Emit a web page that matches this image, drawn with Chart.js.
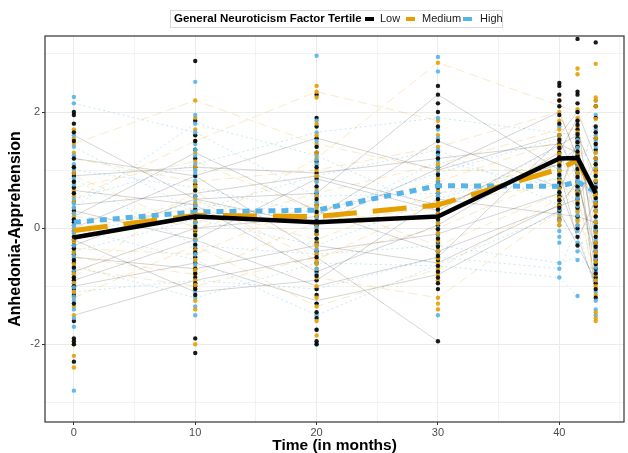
<!DOCTYPE html>
<html>
<head>
<meta charset="utf-8">
<script src="https://cdn.jsdelivr.net/npm/chart.js@4.4.1/dist/chart.umd.min.js"></script>
<style>
  html, body { margin: 0; padding: 0; background: #fff; }
  #wrap { position: relative; width: 628px; height: 453px; font-family: "Liberation Sans", Arial, Helvetica, sans-serif; }
  #legend-box { position: absolute; left: 170px; top: 10px; width: 333px; height: 18px; border: 1px solid #d9d9d9; box-sizing: border-box; }
  .lg { position: absolute; top: 12px; font-size: 11px; line-height: 13px; color: #1a1a1a; white-space: nowrap; }
  .lg-title { font-weight: bold; color: #000; font-size: 11.5px; top: 11.5px; }
  .key { position: absolute; top: 17px; width: 9px; height: 4px; }
</style>
</head>
<body>
<div id="wrap">
  <div id="legend-box"></div>
  <span class="lg lg-title" style="left:174px">General Neuroticism Factor Tertile</span>
  <span class="key" style="left:365px;background:#000000"></span>
  <span class="lg" style="left:380px">Low</span>
  <span class="key" style="left:406px;background:#E69F00"></span>
  <span class="lg" style="left:422px">Medium</span>
  <span class="key" style="left:463px;background:#56B4E9"></span>
  <span class="lg" style="left:480px">High</span>
  <canvas id="chart" width="628" height="453"></canvas>
</div>
<script>
(function () {
  "use strict";

  var times = [0, 10, 20, 30, 40, 41.5, 43];
  var groupNames = ["Low", "Medium", "High"];

  // mean trajectories per tertile
  var meanLow = [-0.16, 0.2, 0.1, 0.2, 1.2, 1.21, 0.6];
  var meanMedium = [-0.04, 0.22, 0.2, 0.4, 1.02, 1.17, 0.55];
  var meanHigh = [0.1, 0.28, 0.31, 0.73, 0.72, 0.8, 0.62];

  // observed scores, one list per time point
  var lowPoints = [
    [2.0, 1.95, 1.8, 1.65, 1.5, 1.2, 0.95, 0.9, 0.7, 0.45, 0.3, 0.1, -0.05, -0.2, -0.3, -0.45, -0.6, -0.75, -0.9, -1.05, -1.15, -1.3, -1.6, -1.9, -1.95, -2.0, -2.3,
     0.6, 0.15, -0.15, -0.35, -0.55, -0.85, -1.0, 0.8, 1.05, -0.68],
    [2.88, 1.85, 1.6, 1.35, 1.2, 1.05, 0.9, 0.75, 0.55, 0.4, 0.25, 0.1, -0.05, -0.2, -0.35, -0.5, -0.6, -0.7, -0.85, -0.95, -1.05, -1.15, -1.9, -2.15,
     1.5, 0.65, 0.32, 0.18, -0.12, -0.28, -0.42, -0.78, -1.0, 0.02],
    [2.3, 1.9, 1.75, 1.55, 1.3, 1.15, 0.95, 0.85, 0.6, 0.4, 0.2, 0.05, -0.1, -0.25, -0.4, -0.6, -0.75, -0.9, -1.05, -1.15, -1.3, -1.45, -1.55, -1.75, -1.95, -2.0,
     1.4, 1.05, 0.72, 0.5, 0.28, 0.12, -0.05, -0.18, -0.5, -0.82],
    [2.45, 2.3, 2.15, 2.0, 1.75, 1.5, 1.3, 1.05, 0.8, 0.6, 0.4, 0.25, 0.05, -0.1, -0.25, -0.4, -0.55, -0.65, -0.75, -0.85, -0.95, -1.05, -1.95,
     1.2, 0.92, 0.7, 0.5, 0.32, 0.15, -0.02, -0.18, -0.32, -0.48],
    [2.5, 2.45, 2.3, 2.1, 1.95, 1.8, 1.6, 1.45, 1.3, 1.15, 1.0, 0.85, 0.7, 0.55, 0.4, 0.3, 0.15,
     1.52, 1.38, 1.22, 1.08, 0.92, 0.78, 0.62, 0.48, 0.35, 2.2],
    [3.26, 2.35, 2.3, 2.15, 2.0, 1.85, 1.7, 1.55, 1.4, 1.25, 1.1, 0.95, 0.8, 0.65, 0.5, 0.35, 0.2, 0.0, -0.15, -0.3,
     1.78, 1.62, 1.48, 1.32, 1.18, 1.02, 0.88, 0.72, 0.58, 0.42],
    [3.2, 2.1, 1.9, 1.75, 1.55, 1.35, 1.2, 1.0, 0.8, 0.6, 0.45, 0.3, 0.1, -0.05, -0.25, -0.4, -0.55, -0.7, -0.85, -0.95, -1.05, -1.2,
     1.65, 1.45, 1.1, 0.9, 0.7, 0.52, 0.38, 0.2, 0.02, -0.15, -0.32, -0.48, -0.62, -0.78]
  ];
  var mediumPoints = [
    [1.7, 1.55, 1.45, 1.3, 1.05, 0.8, 0.65, 0.55, 0.35, 0.2, 0.05, -0.1, -0.25, -0.35, -0.5, -0.7, -0.85, -1.0, -1.2, -1.35, -1.5, -2.0, -2.2, -2.4,
     0.95, 0.45, 0.25, -0.05, -0.2, -0.42, -0.62, -0.78, -0.95, -1.1],
    [2.2, 1.9, 1.7, 1.5, 1.3, 1.15, 1.0, 0.8, 0.65, 0.5, 0.35, 0.2, 0.05, -0.1, -0.3, -0.45, -0.65, -0.8, -0.9, -1.05, -1.25, -1.4, -2.0,
     1.05, 0.72, 0.42, 0.12, -0.02, -0.2, -0.38, -0.55, -0.72, -0.98],
    [2.45, 2.35, 2.25, 1.8, 1.6, 1.45, 1.2, 1.0, 0.8, 0.65, 0.45, 0.3, 0.15, 0.0, -0.2, -0.35, -0.55, -0.7, -0.85, -1.0, -1.2, -1.35, -1.6, -1.85,
     1.3, 0.9, 0.55, 0.38, 0.22, 0.08, -0.1, -0.28, -0.45, -0.62],
    [2.85, 1.85, 1.6, 1.4, 1.2, 1.0, 0.75, 0.55, 0.35, 0.15, 0.0, -0.15, -0.3, -0.45, -0.6, -0.7, -0.8, -0.9, -1.2, -1.3, -1.4,
     1.1, 0.85, 0.65, 0.45, 0.25, 0.08, -0.08, -0.22, -0.38, -0.52],
    [2.2, 2.0, 1.85, 1.7, 1.5, 1.35, 1.2, 1.05, 0.9, 0.75, 0.6, 0.45, 0.3, 0.2, 0.05,
     1.6, 1.42, 1.28, 1.12, 0.98, 0.82, 0.68, 0.52, 0.38, 0.12],
    [2.75, 2.65, 2.05, 1.9, 1.75, 1.55, 1.4, 1.2, 1.05, 0.85, 0.7, 0.55, 0.35, 0.2, 0.05,
     1.65, 1.48, 1.3, 1.12, 0.95, 0.78, 0.62, 0.45, 0.28, 0.12],
    [2.83, 2.25, 2.2, 2.1, 1.65, 1.45, 1.3, 1.1, 0.95, 0.7, 0.5, 0.35, 0.2, 0.0, -0.15, -0.35, -0.5, -0.65, -0.8, -1.0, -1.15, -1.45, -1.55, -1.6,
     1.88, 1.55, 1.2, 1.02, 0.82, 0.6, 0.42, 0.28, 0.1, -0.08, -0.25, -0.42, -0.58, -0.9]
  ];
  var highPoints = [
    [2.26, 2.15, 1.6, 1.4, 1.25, 1.1, 1.0, 0.85, 0.6, 0.5, 0.35, 0.15, 0.0, -0.15, -0.4, -0.55, -0.65, -0.8, -0.95, -1.1, -1.25, -1.4, -1.55, -1.7, -2.8,
     0.75, 0.42, 0.25, 0.05, -0.08, -0.3, -0.48, -0.72, -1.02, -1.18],
    [2.52, 1.95, 1.8, 1.65, 1.45, 1.25, 1.1, 0.95, 0.7, 0.45, 0.3, 0.15, 0.0, -0.15, -0.3, -0.55, -0.75, -0.9, -1.1, -1.2, -1.35, -1.5,
     1.35, 1.0, 0.82, 0.55, 0.38, 0.22, 0.08, -0.22, -0.45, -0.62],
    [2.97, 1.85, 1.65, 1.4, 1.25, 1.1, 0.9, 0.7, 0.55, 0.35, 0.25, 0.1, -0.05, -0.3, -0.45, -0.6, -0.8, -1.05, -1.3, -1.5, -1.75, -2.0,
     1.5, 1.18, 0.8, 0.62, 0.45, 0.18, 0.02, -0.18, -0.38, -0.7],
    [2.95, 2.7, 1.9, 1.7, 1.55, 1.35, 1.15, 0.95, 0.8, 0.6, 0.5, 0.3, 0.1, -0.1, -0.3, -0.5, -0.65, -1.5,
     1.25, 1.05, 0.88, 0.7, 0.55, 0.4, 0.2, 0.0, -0.2, -0.4],
    [1.75, 1.55, 1.4, 1.25, 1.1, 0.95, 0.85, 0.7, 0.55, 0.4, 0.25, 0.05, -0.25, -0.6, -0.7, -0.85,
     1.18, 1.02, 0.9, 0.78, 0.62, 0.48, 0.32, 0.15, -0.05, -0.15],
    [2.0, 1.85, 1.6, 1.45, 1.3, 1.0, 0.9, 0.75, 0.6, 0.45, 0.3, 0.15, -0.05, -0.25, -0.4, -0.55, -1.17,
     1.52, 1.38, 1.2, 1.08, 0.82, 0.68, 0.52, 0.38, 0.22, 0.05],
    [2.2, 1.95, 1.7, 1.5, 1.3, 1.15, 0.9, 0.75, 0.55, 0.4, 0.2, 0.05, -0.1, -0.3, -0.45, -0.6, -0.75, -0.9, -1.1, -1.4, -1.5,
     1.6, 1.4, 1.05, 0.82, 0.65, 0.48, 0.3, 0.12, -0.02, -0.2, -0.38, -0.52, -0.68, -1.25]
  ];

  // individual subjects (values at each time, null = missing)
  var lowSubjects = [
    [0.9, 1.05, 0.95, 1.2, 1.45, 1.3, 0.6],
    [-0.5, -0.7, -0.3, -0.6, 0.4, 0.8, -0.4],
    [0.3, -0.2, 0.85, 0.3, null, 1.6, 0.9],
    [-1.0, -0.6, -1.25, -0.8, 0.3, null, -0.9],
    [1.6, 0.5, 0.05, null, 2.0, 1.2, 0.3],
    [-0.3, 0.5, 0.6, 2.3, 1.0, -0.2, 0.5],
    [0.2, 1.3, 0.3, -0.4, null, 0.5, 1.1],
    [-1.5, -0.9, -0.5, -1.95, null, null, null],
    [0.65, 0.4, -0.75, 0.05, 1.3, 1.9, -0.6],
    [-0.75, 0.0, 0.2, 1.5, 0.7, null, -1.0],
    [1.2, 0.9, 1.55, 1.0, 1.6, 2.0, 1.2],
    [-0.9, -0.2, -1.0, -0.5, 1.5, 0.9, -0.7],
    [0.4, 0.6, 0.9, 0.4, 1.1, 1.4, -0.2],
    [-0.2, -1.1, -0.9, 0.5, null, 0.2, 0.1],
    [0.0, 0.9, -0.4, -0.1, 0.6, 1.5, -1.2]
  ];
  var mediumSubjects = [
    [0.5, 1.5, 2.35, 1.85, null, null, null],
    [0.0, 0.35, -0.2, 0.6, 1.1, 1.55, 0.3],
    [-0.7, -1.0, -0.5, 0.0, 0.9, 0.3, -0.8],
    [1.2, 0.8, 1.0, 1.4, 2.0, 1.2, 1.6],
    [-0.35, -0.45, 0.45, -0.3, 0.6, 1.4, 0.0],
    [0.7, 1.15, 0.3, 0.8, 1.5, null, 2.1],
    [-1.2, -0.3, -1.35, -0.7, null, 0.7, -1.15],
    [0.2, 0.05, 1.2, 2.85, null, 2.0, null],
    [-0.85, 0.65, -0.85, -1.2, 0.3, 0.85, -0.5],
    [0.9, 0.0, 0.6, 1.1, 1.7, 1.7, 0.7],
    [-0.5, -0.8, 0.1, 0.35, 1.3, 0.5, 1.3],
    [1.45, 2.2, 1.45, 1.0, null, 1.0, 0.2],
    [-0.1, 0.5, -0.55, 0.45, 0.75, 1.05, -1.0]
  ];
  var highSubjects = [
    [1.4, 0.3, 0.9, 1.35, 0.4, 0.6, null],
    [-0.4, 0.15, -0.3, 0.5, 1.1, 1.3, 0.4],
    [2.15, 1.65, 0.55, 0.6, 0.85, null, 1.5],
    [-1.1, -0.9, -1.05, -0.5, -0.7, 0.0, -1.1],
    [0.5, 1.1, 1.65, 1.9, null, 1.6, 0.9],
    [-0.65, -1.2, -0.6, -0.65, -0.85, -1.17, null],
    [1.0, 0.7, 0.25, 0.95, 1.55, 0.75, 1.95],
    [0.0, -0.55, -1.5, null, 0.25, -0.25, -0.3],
    [0.35, 1.8, 1.25, 0.3, 1.4, 1.2, 0.2],
    [-0.15, 0.45, 0.1, 1.15, 0.7, 0.45, -0.45],
    [0.85, -0.3, -0.45, -0.3, -0.6, -0.5, -0.75]
  ];

  var xTicks = [0, 5, 10, 15, 20, 25, 30, 35, 40, 45];
  var yTicks = [-3, -2, -1, 0, 1, 2, 3];

  var FONT = "'Liberation Sans', Arial, Helvetica, sans-serif";

  function series(values) {
    return times.map(function (t, i) { return { x: t, y: values[i] }; });
  }

  var datasets = [];

  // means on top
  datasets.push({ type: "line", label: "mean Low", data: series(meanLow), borderColor: "#000000",
    borderWidth: 4.5, pointRadius: 0, order: 0 });
  datasets.push({ type: "line", label: "mean Medium", data: series(meanMedium), borderColor: "#E69F00",
    borderWidth: 5, borderDash: [34, 16], pointRadius: 0, order: 0 });
  datasets.push({ type: "line", label: "mean High", data: series(meanHigh), borderColor: "#56B4E9",
    borderWidth: 5, borderDash: [7, 6], pointRadius: 0, order: 0 });

  // all observed points, interleaved so colours overlap like the original
  var allGroups = [lowPoints, mediumPoints, highPoints];
  var pointAlpha = ["rgba(0,0,0,0.9)", "rgba(230,159,0,0.9)", "rgba(86,180,233,0.9)"];
  var pts = [], ptColors = [];
  times.forEach(function (t, ti) {
    var n = Math.max(lowPoints[ti].length, mediumPoints[ti].length, highPoints[ti].length);
    for (var i = 0; i < n; i++) {
      allGroups.forEach(function (g, gi) {
        if (i < g[ti].length) {
          pts.push({ x: t, y: g[ti][i] });
          ptColors.push(pointAlpha[gi]);
        }
      });
    }
  });
  datasets.push({ type: "scatter", label: "points", data: pts, pointRadius: 2.2, pointBorderWidth: 0,
    pointBackgroundColor: ptColors, backgroundColor: ptColors, order: 1 });

  // faint individual trajectories
  var subjStyles = [
    { color: "rgba(0,0,0,0.17)", dash: [] },
    { color: "rgba(230,159,0,0.22)", dash: [9, 5] },
    { color: "rgba(86,180,233,0.32)", dash: [2, 3] }
  ];
  [lowSubjects, mediumSubjects, highSubjects].forEach(function (subs, gi) {
    subs.forEach(function (s, si) {
      datasets.push({ type: "line", label: groupNames[gi] + " " + si, data: series(s),
        borderColor: subjStyles[gi].color, borderDash: subjStyles[gi].dash, borderWidth: 1,
        pointRadius: 0, spanGaps: true, order: 2 });
    });
  });

  var panelBorder = {
    id: "panelBorder",
    afterDraw: function (chart) {
      var a = chart.chartArea, ctx = chart.ctx;
      ctx.save();
      ctx.strokeStyle = "#333333";
      ctx.lineWidth = 1.2;
      ctx.strokeRect(a.left, a.top, a.right - a.left, a.bottom - a.top);
      ctx.restore();
    }
  };

  new Chart(document.getElementById("chart"), {
    type: "scatter",
    data: { datasets: datasets },
    options: {
      responsive: false,
      animation: false,
      events: [],
      layout: { padding: { top: 36, right: 1, left: 0, bottom: 0 } },
      plugins: { legend: { display: false }, tooltip: { enabled: false } },
      elements: { line: { tension: 0, borderCapStyle: "butt", borderJoinStyle: "round" } },
      scales: {
        x: {
          type: "linear", min: -2.38, max: 45.33,
          afterBuildTicks: function (s) { s.ticks = xTicks.map(function (v) { return { value: v }; }); },
          afterFit: function (s) { s.height = 31; },
          ticks: {
            autoSkip: false, maxRotation: 0, padding: 1, color: "#4d4d4d",
            font: { family: FONT, size: 11 },
            callback: function (v) { return v % 10 === 0 ? String(v) : ""; }
          },
          grid: {
            color: "#ebebeb",
            lineWidth: function (c) { return c.tick && c.tick.value % 10 === 0 ? 1 : 0.6; },
            tickLength: 3,
            tickColor: function (c) { return c.tick && c.tick.value % 10 === 0 ? "#333333" : "rgba(0,0,0,0)"; }
          },
          border: { display: false },
          title: {
            display: true, text: "Time (in months)", color: "#000",
            font: { family: FONT, size: 15.5, weight: "bold", lineHeight: 1 },
            padding: { top: 0, bottom: 0 }
          }
        },
        y: {
          type: "linear", min: -3.34, max: 3.31,
          afterBuildTicks: function (s) { s.ticks = yTicks.map(function (v) { return { value: v }; }); },
          afterFit: function (s) { s.width = 45; },
          ticks: {
            padding: 2, color: "#4d4d4d",
            font: { family: FONT, size: 11 },
            callback: function (v) { return v % 2 === 0 ? String(v) : ""; }
          },
          grid: {
            color: "#ebebeb",
            lineWidth: function (c) { return c.tick && c.tick.value % 2 === 0 ? 1 : 0.6; },
            tickLength: 3,
            tickColor: function (c) { return c.tick && c.tick.value % 2 === 0 ? "#333333" : "rgba(0,0,0,0)"; }
          },
          border: { display: false },
          title: {
            display: true, text: "Anhedonia-Apprehension", color: "#000",
            font: { family: FONT, size: 16, weight: "bold", lineHeight: 1 },
            padding: { top: 8, bottom: 0 }
          }
        }
      }
    },
    plugins: [panelBorder]
  });
})();
</script>
</body>
</html>
